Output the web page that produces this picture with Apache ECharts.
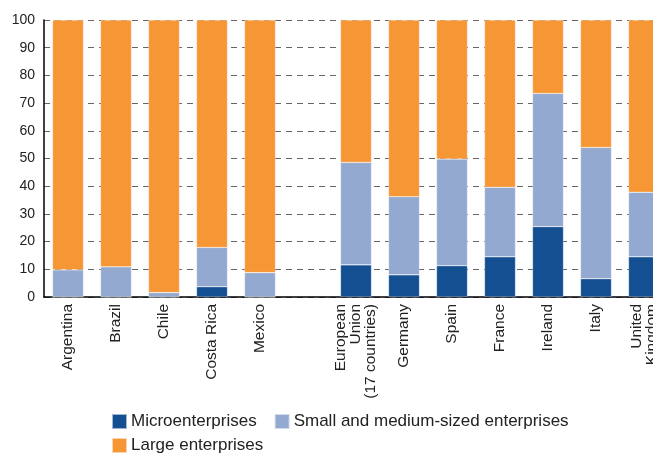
<!DOCTYPE html>
<html>
<head>
<meta charset="utf-8">
<script src="https://cdn.jsdelivr.net/npm/echarts@6/dist/echarts.min.js"></script>
<style>
html, body { margin: 0; padding: 0; background: #fff; }
#chart { width: 653px; height: 454px; }
</style>
</head>
<body>
<div id="chart"></div>
<script>
// categories (blank slot separates Latin America from Europe)
var categories = ['Argentina', 'Brazil', 'Chile', 'Costa Rica', 'Mexico', '',
	'European\nUnion\n(17 countries)', 'Germany', 'Spain', 'France', 'Ireland', 'Italy', 'United\nKingdom'];

// shares of employment, %
var micro = [0, 0, 0, 3.7, 0, null, 11.6, 8, 11.3, 14.5, 25.4, 6.6, 14.5];
var sme = [9.8, 10.9, 1.6, 14.2, 8.8, null, 37, 28.2, 38.5, 25.1, 48.1, 47.4, 23.3];
var large = [90.2, 89.1, 98.4, 82.1, 91.2, null, 51.4, 63.8, 50.2, 60.4, 26.5, 46, 62.2];

var yTicks = [0, 10, 20, 30, 40, 50, 60, 70, 80, 90, 100];

var seriesNames = ['Microenterprises', 'Small and medium-sized enterprises', 'Large enterprises'];
var colors = ['#134f91', '#94a9cf', '#f69634'];

var chart = echarts.init(document.getElementById('chart'));

function bar(name, data, color) {
	return {
		name: name,
		type: 'bar',
		stack: 'total',
		barWidth: 31,
		data: data,
		itemStyle: {
			color: color,
			borderColor: 'rgba(255,255,255,0.6)',
			borderWidth: 0.5
		}
	};
}

var font = '"Liberation Sans", Arial, sans-serif';

chart.setOption({
	animation: false,
	textStyle: { fontFamily: font },
	grid: {
		left: 44,
		top: 20,
		width: 624,
		height: 277,
		containLabel: false,
		outerBoundsMode: 'none'
	},
	legend: [
		{
			data: [seriesNames[0], seriesNames[1]],
			left: 106,
			top: 408,
			itemWidth: 15,
			itemHeight: 15,
			itemGap: 17,
			icon: 'rect',
			textStyle: { fontSize: 17, color: '#222', fontFamily: font, padding: [0, 0, 0, -1] }
		},
		{
			data: [seriesNames[2]],
			left: 106,
			top: 432,
			itemWidth: 15,
			itemHeight: 15,
			icon: 'rect',
			textStyle: { fontSize: 17, color: '#222', fontFamily: font, padding: [0, 0, 0, -1] }
		}
	],
	xAxis: {
		type: 'category',
		data: categories,
		axisLine: { lineStyle: { color: '#000', width: 1.5 } },
		axisTick: { show: false },
		axisLabel: {
			interval: 0,
			rotate: 90,
			margin: 7,
			fontSize: 15.5,
			lineHeight: 15,
			color: '#222',
			fontFamily: font
		}
	},
	yAxis: {
		type: 'value',
		min: yTicks[0],
		max: yTicks[yTicks.length - 1],
		interval: 10,
		axisLine: { show: true, lineStyle: { color: '#000', width: 1.5 } },
		axisTick: { show: false },
		axisLabel: { fontSize: 14, color: '#222', margin: 9, fontFamily: font },
		splitLine: { lineStyle: { color: '#666', type: [6, 5], width: 1 } }
	},
	series: [
		bar(seriesNames[0], micro, colors[0]),
		bar(seriesNames[1], sme, colors[1]),
		bar(seriesNames[2], large, colors[2])
	]
});
</script>
</body>
</html>
